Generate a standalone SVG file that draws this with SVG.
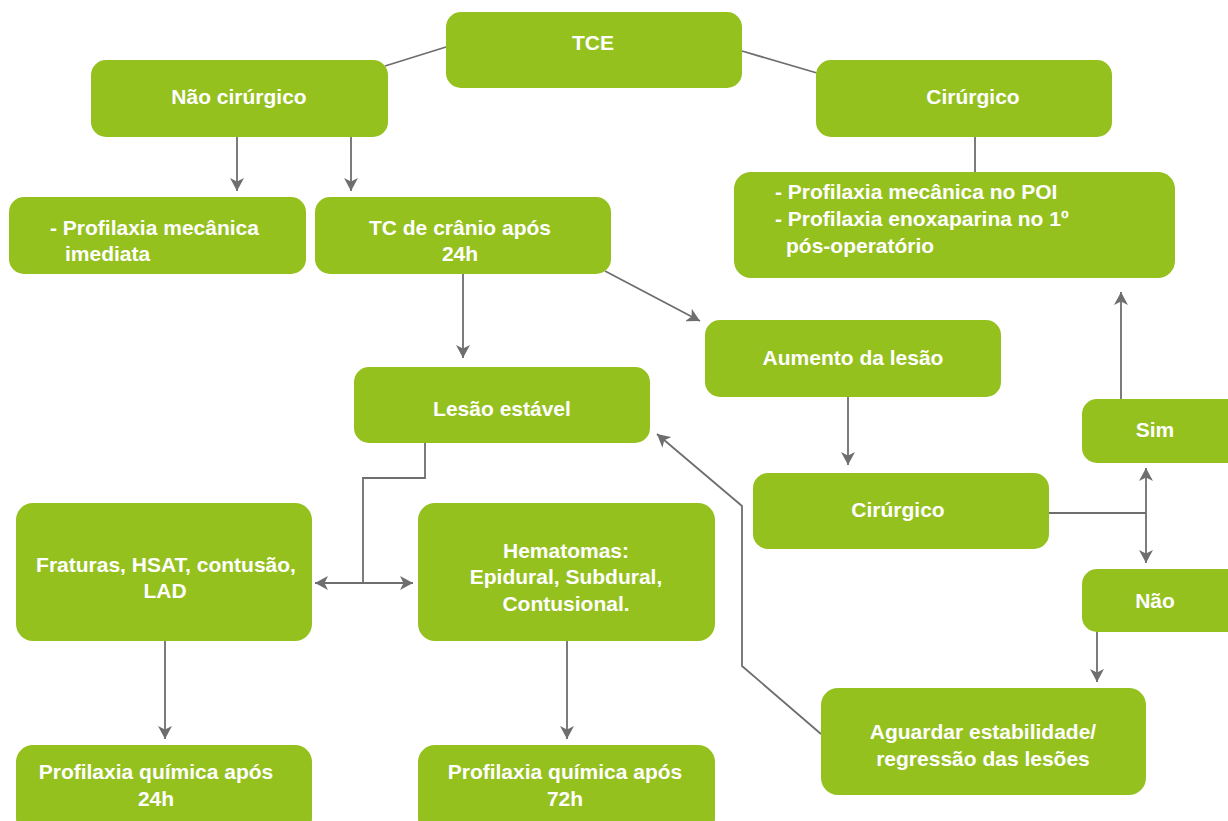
<svg xmlns="http://www.w3.org/2000/svg" width="1228" height="821" viewBox="0 0 1228 821">
<style>
.box{fill:#95c11f;}
.t{font-family:"Liberation Sans",Arial,sans-serif;font-weight:bold;font-size:21px;fill:#ffffff;}
.c{text-anchor:middle;}
.ln{fill:none;stroke:#6e6e6e;stroke-width:1.8;}
</style>
<defs>
<marker id="ah" viewBox="0 0 13 14" refX="13" refY="7" markerWidth="13" markerHeight="14" markerUnits="userSpaceOnUse" orient="auto-start-reverse">
<path d="M0,0 L13,7 L0,14 L3.5,7 Z" fill="#6e6e6e"/>
</marker>
</defs>
<rect width="1228" height="821" fill="#ffffff"/>

<g id="connectors">
<line class="ln" x1="446" y1="47" x2="385" y2="66"/>
<line class="ln" x1="742" y1="51" x2="817" y2="73"/>
<line class="ln" x1="237" y1="137" x2="237" y2="191" marker-end="url(#ah)"/>
<line class="ln" x1="351" y1="137" x2="351" y2="191" marker-end="url(#ah)"/>
<line class="ln" x1="975" y1="137" x2="975" y2="172"/>
<line class="ln" x1="463" y1="274" x2="463" y2="358" marker-end="url(#ah)"/>
<line class="ln" x1="605" y1="271" x2="700" y2="321" marker-end="url(#ah)"/>
<line class="ln" x1="848" y1="397" x2="848" y2="465" marker-end="url(#ah)"/>
<polyline class="ln" points="1049,513 1146,513"/>
<line class="ln" x1="1146" y1="513" x2="1146" y2="468" marker-end="url(#ah)"/>
<line class="ln" x1="1146" y1="513" x2="1146" y2="563" marker-end="url(#ah)"/>
<line class="ln" x1="1121" y1="399" x2="1121" y2="292" marker-end="url(#ah)"/>
<line class="ln" x1="1097" y1="632" x2="1097" y2="682" marker-end="url(#ah)"/>
<polyline class="ln" points="821,734 742,666 742,506 657,434" marker-end="url(#ah)"/>
<polyline class="ln" points="425,443 425,478 363,478 363,583"/>
<line class="ln" x1="315" y1="583" x2="413" y2="583" marker-start="url(#ah)" marker-end="url(#ah)"/>
<line class="ln" x1="165" y1="641" x2="165" y2="739" marker-end="url(#ah)"/>
<line class="ln" x1="567" y1="641" x2="567" y2="739" marker-end="url(#ah)"/>
</g>

<g id="n-tce"><rect class="box" x="446" y="12" width="296" height="76" rx="15"/><text class="t c" x="593" y="50">TCE</text></g>
<g id="n-naocir"><rect class="box" x="91" y="60" width="297" height="77" rx="15"/><text class="t c" x="239" y="104">Não cirúrgico</text></g>
<g id="n-cir1"><rect class="box" x="816" y="60" width="296" height="77" rx="15"/><text class="t c" x="973" y="104">Cirúrgico</text></g>
<g id="n-profmec"><rect class="box" x="9" y="197" width="297" height="77" rx="15"/><text class="t" x="50" y="235">- Profilaxia mecânica</text><text class="t" x="65" y="261">imediata</text></g>
<g id="n-tc"><rect class="box" x="315" y="197" width="296" height="77" rx="15"/><text class="t c" x="460" y="235">TC de crânio após</text><text class="t c" x="460" y="261">24h</text></g>
<g id="n-poi"><rect class="box" x="734" y="172" width="441" height="106" rx="17"/><text class="t" x="775" y="199">- Profilaxia mecânica no POI</text><text class="t" x="775" y="226">- Profilaxia enoxaparina no 1º</text><text class="t" x="786" y="253">pós-operatório</text></g>
<g id="n-aumento"><rect class="box" x="705" y="320" width="296" height="77" rx="15"/><text class="t c" x="853" y="365">Aumento da lesão</text></g>
<g id="n-estavel"><rect class="box" x="354" y="367" width="296" height="76" rx="15"/><text class="t c" x="502" y="416">Lesão estável</text></g>
<g id="n-cir2"><rect class="box" x="753" y="473" width="296" height="76" rx="15"/><text class="t c" x="898" y="517">Cirúrgico</text></g>
<g id="n-sim"><rect class="box" x="1082" y="399" width="170" height="64" rx="15"/><text class="t c" x="1155" y="437">Sim</text></g>
<g id="n-nao"><rect class="box" x="1082" y="569" width="170" height="63" rx="15"/><text class="t c" x="1155" y="608">Não</text></g>
<g id="n-aguardar"><rect class="box" x="821" y="688" width="325" height="107" rx="17"/><text class="t c" x="983" y="739">Aguardar estabilidade/</text><text class="t c" x="983" y="766">regressão das lesões</text></g>
<g id="n-fraturas"><rect class="box" x="16" y="503" width="296" height="138" rx="17"/><text class="t c" x="166" y="572">Fraturas, HSAT, contusão,</text><text class="t c" x="165" y="598">LAD</text></g>
<g id="n-hematomas"><rect class="box" x="418" y="503" width="297" height="138" rx="17"/><text class="t c" x="566" y="558">Hematomas:</text><text class="t c" x="566" y="584">Epidural, Subdural,</text><text class="t c" x="566" y="611">Contusional.</text></g>
<g id="n-q24"><rect class="box" x="16" y="745" width="296" height="90" rx="17"/><text class="t c" x="156" y="779">Profilaxia química após</text><text class="t c" x="156" y="806">24h</text></g>
<g id="n-q72"><rect class="box" x="418" y="745" width="297" height="90" rx="17"/><text class="t c" x="565" y="779">Profilaxia química após</text><text class="t c" x="565" y="806">72h</text></g>
</svg>
